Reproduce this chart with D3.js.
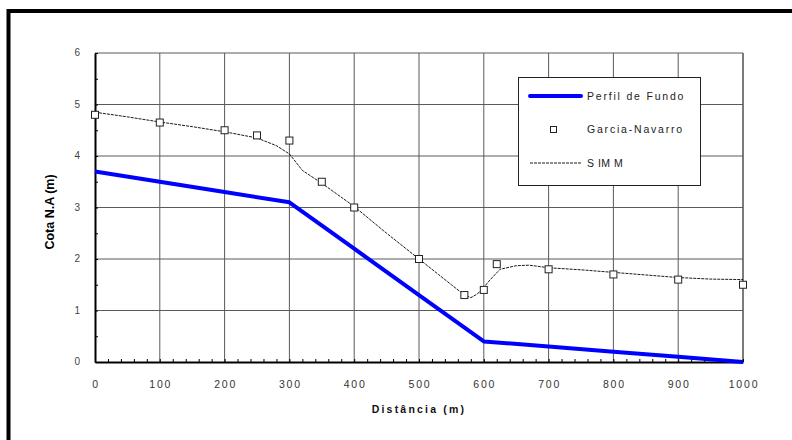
<!DOCTYPE html>
<html lang="pt">
	<head>
		<meta charset="utf-8">
		<title>Cota N.A</title>
		<script type="text/javascript" src="https://cdn.jsdelivr.net/npm/d3@7"></script>
		<style>
			body { margin: 0; background: #fff; }
			svg text { font-family: "Liberation Sans", Arial, sans-serif; }
			.tick-x { font-size: 10.5px; fill: #333; letter-spacing: 1.8px; }
			.tick-y { font-size: 10px; fill: #444; }
		</style>
	</head>
	<body>
		<script type="text/javascript">

			var w = 792;
			var h = 440;

			// Perfil de Fundo (x, cota)
			var fundoX = [0, 100, 200, 300, 400, 500, 600, 700, 800, 900, 1000];
			var fundoY = [3.7, 3.5, 3.3, 3.1, 2.2, 1.3, 0.4, 0.3, 0.2, 0.1, 0.0];

			// Garcia-Navarro points
			var garciaX = [0, 100, 200, 250, 300, 350, 400, 500, 570, 600, 620, 700, 800, 900, 1000];
			var garciaY = [4.8, 4.65, 4.5, 4.4, 4.3, 3.5, 3.0, 2.0, 1.3, 1.4, 1.9, 1.8, 1.7, 1.6, 1.5];

			// SIMM line
			var simmX = [0, 50, 100, 150, 200, 250, 280, 300, 320, 350, 400, 450, 500, 530, 550, 570, 580, 590, 600, 610, 625, 650, 670, 700, 750, 800, 850, 900, 950, 1000];
			var simmY = [4.85, 4.76, 4.66, 4.57, 4.47, 4.35, 4.2, 4.04, 3.72, 3.47, 3.02, 2.5, 2.0, 1.7, 1.5, 1.3, 1.25, 1.32, 1.45, 1.6, 1.8, 1.87, 1.88, 1.83, 1.79, 1.74, 1.69, 1.64, 1.61, 1.6];

			var xTicks = [0, 100, 200, 300, 400, 500, 600, 700, 800, 900, 1000];
			var yTicks = [0, 1, 2, 3, 4, 5, 6];

			var legendNames = ["Perfil de Fundo", "Garcia-Navarro", "S IM M"];

			var zip = function(xs, ys) { return xs.map(function(x, i) { return [x, ys[i]]; }); };
			var fundo = zip(fundoX, fundoY);
			var garcia = zip(garciaX, garciaY);
			var simm = zip(simmX, simmY);

			// plot box edges
			var padLeft = 95, padRight = 743, padTop = 53, padBottom = 362;

			var xScale = d3.scaleLinear().domain([0, 1000]).range([padLeft, padRight]);
			var yScale = d3.scaleLinear().domain([0, 6]).range([padBottom, padTop]);

			var svg = d3.select("body").append("svg")
				.attr("width", w)
				.attr("height", h);

			// outer frame (right/bottom edges fall outside the picture)
			svg.append("rect")
				.attr("x", 8.5).attr("y", 11)
				.attr("width", 820).attr("height", 500)
				.attr("fill", "none")
				.attr("stroke", "#000")
				.attr("stroke-width", 4);

			// grid
			var grid = svg.append("g");
			grid.selectAll("line.v")
				.data(xTicks.slice(1))
				.enter().append("line")
				.attr("x1", function(d) { return xScale(d); })
				.attr("x2", function(d) { return xScale(d); })
				.attr("y1", padTop).attr("y2", padBottom)
				.attr("stroke", "#5a5a5a")
				.attr("stroke-width", function(d) { return d == 1000 ? 1.6 : 1; });
			grid.selectAll("line.h")
				.data(yTicks.slice(1))
				.enter().append("line")
				.attr("x1", padLeft).attr("x2", padRight)
				.attr("y1", function(d) { return yScale(d); })
				.attr("y2", function(d) { return yScale(d); })
				.attr("stroke", "#5a5a5a")
				.attr("stroke-width", 1);

			// axes
			var xAxis = d3.axisBottom(xScale)
				.tickValues(d3.range(0, 1001, 20))
				.tickSizeInner(-3).tickSizeOuter(0)
				.tickFormat("");
			svg.append("g")
				.attr("transform", "translate(0," + padBottom + ")")
				.call(xAxis)
				.call(function(g) {
					g.select(".domain").attr("stroke", "#000").attr("stroke-width", 2);
					g.selectAll(".tick line").attr("stroke", "#000");
				});

			var yAxis = d3.axisLeft(yScale)
				.tickValues(d3.range(0, 6.01, 0.5))
				.tickSizeInner(-3).tickSizeOuter(0)
				.tickFormat("");
			svg.append("g")
				.attr("transform", "translate(" + padLeft + ",0)")
				.call(yAxis)
				.call(function(g) {
					g.select(".domain").attr("stroke", "#000").attr("stroke-width", 2);
					g.selectAll(".tick line").attr("stroke", "#000");
				});

			// tick labels
			svg.append("g").selectAll("text")
				.data(xTicks)
				.enter().append("text")
				.attr("class", "tick-x")
				.attr("x", function(d) { return xScale(d) + 1; })
				.attr("y", padBottom + 26)
				.attr("text-anchor", "middle")
				.text(function(d) { return d; });

			svg.append("g").selectAll("text")
				.data(yTicks)
				.enter().append("text")
				.attr("class", "tick-y")
				.attr("x", 80)
				.attr("y", function(d) { return yScale(d) + 3; })
				.attr("text-anchor", "end")
				.text(function(d) { return d; });

			// axis titles
			svg.append("text")
				.attr("x", (padLeft + padRight) / 2)
				.attr("y", 413)
				.attr("text-anchor", "middle")
				.attr("font-size", "10.5px")
				.attr("font-weight", "bold")
				.attr("letter-spacing", "2.2px")
				.attr("fill", "#111")
				.text("Distância (m)");

			svg.append("text")
				.attr("transform", "translate(54,212) rotate(-90)")
				.attr("text-anchor", "middle")
				.attr("font-size", "12.5px")
				.attr("font-weight", "bold")
				.attr("fill", "#000")
				.text("Cota N.A (m)");

			// series
			var line = d3.line()
				.x(function(d) { return xScale(d[0]); })
				.y(function(d) { return yScale(d[1]); });

			svg.append("path")
				.datum(simm)
				.attr("d", line)
				.attr("fill", "none")
				.attr("stroke", "#000")
				.attr("stroke-width", 0.9)
				.attr("stroke-dasharray", "3,1");

			svg.append("path")
				.datum(fundo)
				.attr("d", line)
				.attr("fill", "none")
				.attr("stroke", "#0000ff")
				.attr("stroke-width", 4)
				.attr("stroke-linejoin", "round");

			svg.append("g").selectAll("rect")
				.data(garcia)
				.enter().append("rect")
				.attr("x", function(d) { return xScale(d[0]) - 3.5; })
				.attr("y", function(d) { return yScale(d[1]) - 3.5; })
				.attr("width", 7).attr("height", 7)
				.attr("fill", "#fff")
				.attr("stroke", "#222")
				.attr("stroke-width", 1);

			// legend
			var legend = svg.append("g");
			legend.append("rect")
				.attr("x", 518.5).attr("y", 77.5)
				.attr("width", 182).attr("height", 108)
				.attr("fill", "#fff")
				.attr("stroke", "#222")
				.attr("stroke-width", 1);

			var ly = [96, 129, 163];
			legend.append("line")
				.attr("x1", 530).attr("x2", 581)
				.attr("y1", ly[0]).attr("y2", ly[0])
				.attr("stroke", "#0000ff").attr("stroke-width", 4)
				.attr("stroke-linecap", "round");
			legend.append("rect")
				.attr("x", 550.5).attr("y", ly[1] - 2.5)
				.attr("width", 6).attr("height", 6)
				.attr("fill", "#fff").attr("stroke", "#222");
			legend.append("line")
				.attr("x1", 530).attr("x2", 581)
				.attr("y1", ly[2]).attr("y2", ly[2])
				.attr("stroke", "#000").attr("stroke-width", 0.9)
				.attr("stroke-dasharray", "3,1");

			legend.selectAll("text")
				.data(legendNames)
				.enter().append("text")
				.attr("x", 587)
				.attr("y", function(d, i) { return ly[i] + 4; })
				.attr("font-size", "10.5px")
				.attr("letter-spacing", function(d, i) { return i == 2 ? "0.5px" : "1.8px"; })
				.attr("fill", "#222")
				.text(function(d) { return d; });

		</script>
	</body>
</html>
